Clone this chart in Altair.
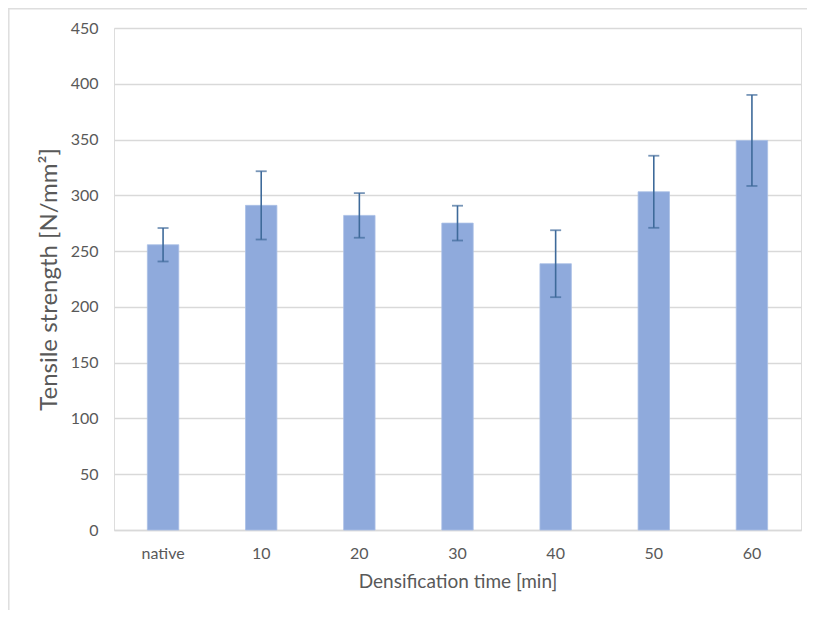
import altair as alt
import pandas as pd

categories = ["native", "10", "20", "30", "40", "50", "60"]
means = [255.7, 291.0, 282.0, 275.1, 238.7, 303.2, 349.2]
errors = [15.0, 30.6, 20.0, 15.6, 30.0, 32.3, 40.8]

df = pd.DataFrame({"cat": categories, "mean": means, "err": errors})
df["lo"] = df["mean"] - df["err"]
df["hi"] = df["mean"] + df["err"]

FONT = "Lato"
W, H = 687, 502
PL, PT = 106, 20

x = alt.X("cat:N", sort=categories, title="Densification time [min]",
          scale=alt.Scale(paddingInner=0.68, paddingOuter=0.34),
          axis=alt.Axis(labelAngle=0, ticks=False, domain=True, domainColor="#d9d9d9",
                        domainWidth=1.5, labelPadding=15, titlePadding=11,
                        labelFontSize=16, titleFontSize=19, labelColor="#595959",
                        titleColor="#595959", labelFont=FONT, titleFont=FONT,
                        titleFontWeight="normal", grid=False))
y = alt.Y("mean:Q", title="Tensile strength [N/mm²]",
          scale=alt.Scale(domain=[0, 450], nice=False),
          axis=alt.Axis(values=list(range(0, 451, 50)), ticks=False, domain=False,
                        gridColor="#d9d9d9", gridWidth=1.3, labelPadding=16,
                        titlePadding=9, labelFontSize=16, titleFontSize=24,
                        labelColor="#595959", titleColor="#595959",
                        labelFont=FONT, titleFont=FONT, titleFontWeight="normal"))

base = alt.Chart(df)
bars = base.mark_bar(color="#8FAADC", stroke="#A9BFE6", strokeWidth=0.8).encode(x=x, y=y)
rules = base.mark_rule(color="#3E6A9A", strokeWidth=1.6).encode(
    x=alt.X("cat:N", sort=categories), y="lo:Q", y2="hi:Q")
cap_hi = base.mark_tick(color="#3E6A9A", orient="horizontal", size=11, thickness=1.8).encode(
    x=alt.X("cat:N", sort=categories), y="hi:Q")
cap_lo = base.mark_tick(color="#3E6A9A", orient="horizontal", size=11, thickness=1.8).encode(
    x=alt.X("cat:N", sort=categories), y="lo:Q")

frame = pd.DataFrame({"a": [0]})
top_line = alt.Chart(frame).mark_rule(color="#dedede", strokeWidth=1.5, clip=False).encode(
    x=alt.value(-PL), x2=alt.value(W + 6), y=alt.value(-PT + 0.8))
left_line = alt.Chart(frame).mark_rule(color="#dedede", strokeWidth=1.5, clip=False).encode(
    x=alt.value(-PL + 0.8), y=alt.value(-PT), y2=alt.value(H + 80))

chart = alt.layer(bars, rules, cap_hi, cap_lo, top_line, left_line).properties(
    width=W, height=H,
    autosize=alt.AutoSizeParams(type="none"),
    padding={"left": PL, "top": PT, "right": 6, "bottom": 80},
).configure_view(stroke=None).configure(background="white")

chart.save("out.html", embed_options={"renderer": "svg", "actions": False})
